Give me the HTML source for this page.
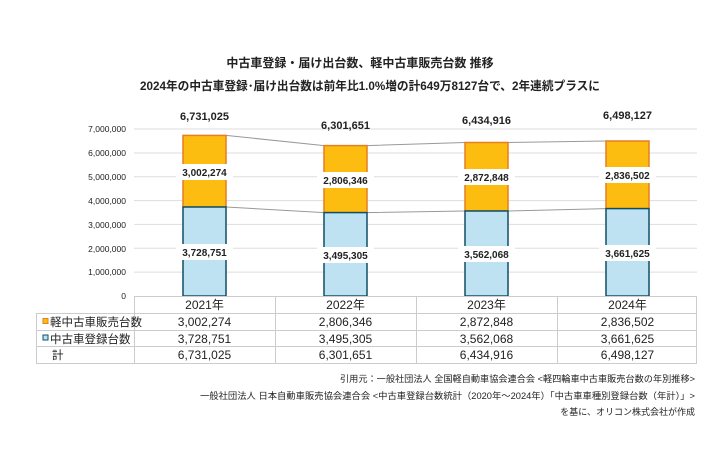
<!DOCTYPE html>
<html><head><meta charset="utf-8"><style>
body{margin:0;background:#fff}
svg{display:block}
text{font-family:"Liberation Sans","Noto Sans CJK JP",sans-serif;fill:#222}
</style></head><body>
<svg width="710" height="474" viewBox="0 0 710 474" xmlns="http://www.w3.org/2000/svg">
<rect width="710" height="474" fill="#fff"/>
<text x="360" y="67" text-anchor="middle" font-size="12" font-weight="bold" fill="#333">中古車登録・届け出台数、軽中古車販売台数 推移</text>
<text x="370" y="90" text-anchor="middle" font-size="12" font-weight="bold" textLength="460" lengthAdjust="spacingAndGlyphs">2024年の中古車登録･届け出台数は前年比1.0%増の計649万8127台で、2年連続プラスに</text>
<g stroke="#ddd" stroke-width="1">
<line x1="134" y1="129" x2="697" y2="129"/><line x1="134" y1="153" x2="697" y2="153"/>
<line x1="134" y1="176.7" x2="697" y2="176.7"/><line x1="134" y1="200.6" x2="697" y2="200.6"/>
<line x1="134" y1="224.4" x2="697" y2="224.4"/><line x1="134" y1="248.3" x2="697" y2="248.3"/>
<line x1="134" y1="272.1" x2="697" y2="272.1"/>
</g>
<g font-size="8.5" text-anchor="end" fill="#444">
<text x="126" y="132">7,000,000</text><text x="126" y="156">6,000,000</text>
<text x="126" y="180">5,000,000</text><text x="126" y="204">4,000,000</text>
<text x="126" y="228">3,000,000</text><text x="126" y="252">2,000,000</text>
<text x="126" y="275">1,000,000</text><text x="126" y="299">0</text>
</g>
<g stroke="#999" stroke-width="1" fill="none">
<polyline points="226,135.4 324,145.6 367,145.6 465,142.5 508,142.5 606,141"/>
<polyline points="226,207 324,212.6 367,212.6 465,211 508,211 606,208.6"/>
</g>
<g stroke-width="1.5">
<rect x="183" y="135.4" width="43" height="71.6" fill="#fdbd10" stroke="#e67e22"/>
<rect x="183" y="207" width="43" height="89" fill="#bfe2f3" stroke="#0f4f66"/>
<rect x="324" y="145.6" width="43" height="67" fill="#fdbd10" stroke="#e67e22"/>
<rect x="324" y="212.6" width="43" height="83.4" fill="#bfe2f3" stroke="#0f4f66"/>
<rect x="465" y="142.5" width="43" height="68.5" fill="#fdbd10" stroke="#e67e22"/>
<rect x="465" y="211" width="43" height="85" fill="#bfe2f3" stroke="#0f4f66"/>
<rect x="606" y="141" width="43" height="67.6" fill="#fdbd10" stroke="#e67e22"/>
<rect x="606" y="208.6" width="43" height="87.4" fill="#bfe2f3" stroke="#0f4f66"/>
</g>
<g fill="#fff">
<rect x="176" y="164" width="57" height="16"/><rect x="176" y="244" width="57" height="16"/>
<rect x="317" y="172" width="57" height="16"/><rect x="317" y="247" width="57" height="16"/>
<rect x="458" y="169" width="57" height="16"/><rect x="458" y="246" width="57" height="16"/>
<rect x="599" y="167" width="57" height="16"/><rect x="599" y="245" width="57" height="16"/>
</g>
<g font-size="10" font-weight="bold" text-anchor="middle">
<text x="204.5" y="176">3,002,274</text><text x="204.5" y="256">3,728,751</text>
<text x="345.5" y="184">2,806,346</text><text x="345.5" y="259">3,495,305</text>
<text x="486.5" y="181">2,872,848</text><text x="486.5" y="258">3,562,068</text>
<text x="627.5" y="179">2,836,502</text><text x="627.5" y="257">3,661,625</text>
<text x="204.5" y="120" font-size="11">6,731,025</text>
<text x="345.5" y="129" font-size="11">6,301,651</text>
<text x="486.5" y="124" font-size="11">6,434,916</text>
<text x="627.5" y="119" font-size="11">6,498,127</text>
</g>
<g stroke="#ccc" stroke-width="1" fill="none">
<rect x="36.5" y="313.5" width="660" height="50"/>
<line x1="134.5" y1="296" x2="134.5" y2="363"/>
<line x1="275.5" y1="296" x2="275.5" y2="363"/>
<line x1="416.5" y1="296" x2="416.5" y2="363"/>
<line x1="557.5" y1="296" x2="557.5" y2="363"/>
<line x1="696.5" y1="296" x2="696.5" y2="363"/>
<line x1="134" y1="296.5" x2="697" y2="296.5"/>
<line x1="36" y1="330.5" x2="697" y2="330.5"/>
<line x1="36" y1="346.5" x2="697" y2="346.5"/>
</g>
<rect x="43" y="318.5" width="5" height="5" fill="#fdbd10" stroke="#e67e22"/>
<rect x="43" y="335" width="5" height="5" fill="#bfe2f3" stroke="#0f4f66"/>
<g font-size="11.5">
<text x="50" y="326">軽中古車販売台数</text>
<text x="50" y="343">中古車登録台数</text>
<text x="52" y="359">計</text>
</g>
<g font-size="12" text-anchor="middle">
<text x="204.5" y="309">2021年</text><text x="345.5" y="309">2022年</text><text x="486.5" y="309">2023年</text><text x="627.5" y="309">2024年</text>
<text x="204.5" y="326">3,002,274</text><text x="345.5" y="326">2,806,346</text><text x="486.5" y="326">2,872,848</text><text x="627.5" y="326">2,836,502</text>
<text x="204.5" y="343">3,728,751</text><text x="345.5" y="343">3,495,305</text><text x="486.5" y="343">3,562,068</text><text x="627.5" y="343">3,661,625</text>
<text x="204.5" y="359">6,731,025</text><text x="345.5" y="359">6,301,651</text><text x="486.5" y="359">6,434,916</text><text x="627.5" y="359">6,498,127</text>
</g>
<g font-size="9" text-anchor="end" fill="#333">
<text x="695" y="382" textLength="355" lengthAdjust="spacingAndGlyphs">引用元：一般社団法人 全国軽自動車協会連合会 &lt;軽四輪車中古車販売台数の年別推移&gt;</text>
<text x="695" y="399" textLength="495" lengthAdjust="spacingAndGlyphs">一般社団法人 日本自動車販売協会連合会 &lt;中古車登録台数統計（2020年～2024年）「中古車車種別登録台数（年計）」&gt;</text>
<text x="695" y="415">を基に、オリコン株式会社が作成</text>
</g>
</svg>
</body></html>
